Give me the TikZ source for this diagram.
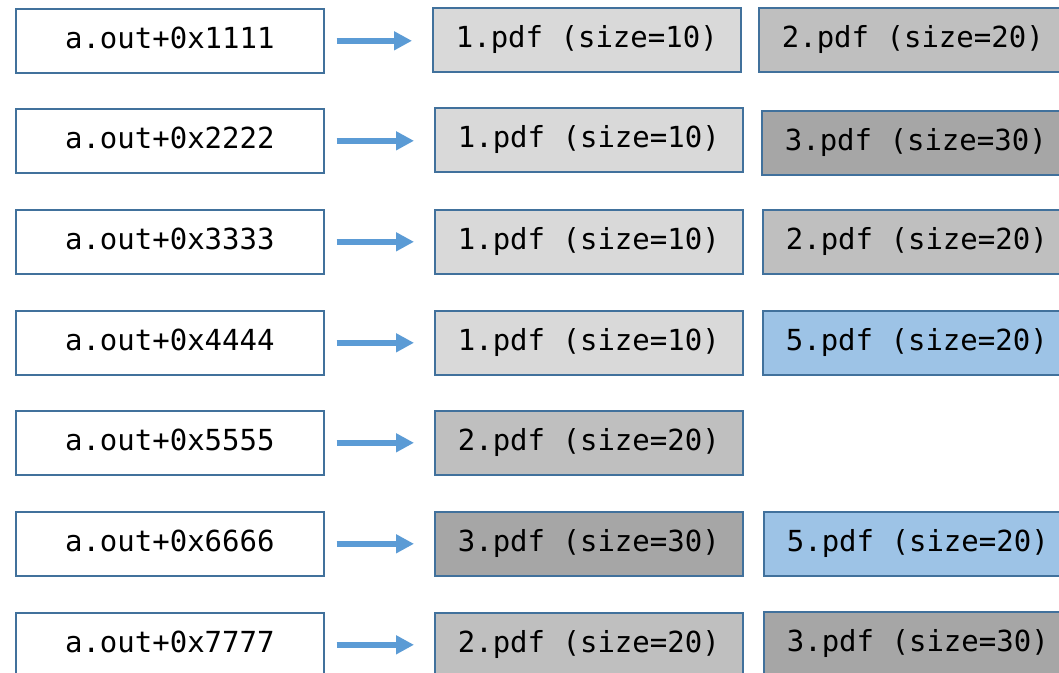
\documentclass[tikz,border=0pt]{standalone}
\usepackage{fontspec}
\newfontfamily\monofam{DejaVu Sans Mono}
\usetikzlibrary{arrows.meta}
\definecolor{edgeblue}{HTML}{41719C}
\definecolor{arrowblue}{HTML}{5B9BD5}
\definecolor{fone}{HTML}{D9D9D9}
\definecolor{ftwo}{HTML}{BFBFBF}
\definecolor{fthree}{HTML}{A6A6A6}
\definecolor{ffive}{HTML}{9DC3E6}
\tikzset{
  boxbase/.style={draw=edgeblue, line width=1.6pt, minimum width=308pt, minimum height=64pt,
    inner sep=0pt, text height=22pt, text depth=6pt, anchor=north west,
    font=\monofam\fontsize{29}{34}\selectfont},
  addrbox/.style={boxbase, fill=white},
  pdfone/.style={boxbase, fill=fone},
  pdftwo/.style={boxbase, fill=ftwo},
  pdfthree/.style={boxbase, fill=fthree},
  pdffive/.style={boxbase, fill=ffive},
  maparrow/.style={draw=arrowblue, line width=6pt, -{Triangle[length=18pt,width=18pt]},
    shorten <=12pt, shorten >=20pt}
}
\begin{document}
\begin{tikzpicture}[x=1pt,y=-1pt]
\clip (0,0) rectangle (1059,672);
\fill[white] (0,0) rectangle (1059,672);
% row 1
\node[addrbox] (l1) at (15,8) {a.out+0x1111};
\node[pdfone] (m1) at (432,7) {1.pdf (size=10)};
\node[pdftwo] (r1) at (758,7) {2.pdf (size=20)};
% row 2
\node[addrbox] (l2) at (15,108) {a.out+0x2222};
\node[pdfone] (m2) at (434,107) {1.pdf (size=10)};
\node[pdfthree] (r2) at (761,110) {3.pdf (size=30)};
% row 3
\node[addrbox] (l3) at (15,209) {a.out+0x3333};
\node[pdfone] (m3) at (434,209) {1.pdf (size=10)};
\node[pdftwo] (r3) at (762,209) {2.pdf (size=20)};
% row 4
\node[addrbox] (l4) at (15,310) {a.out+0x4444};
\node[pdfone] (m4) at (434,310) {1.pdf (size=10)};
\node[pdffive] (r4) at (762,310) {5.pdf (size=20)};
% row 5
\node[addrbox] (l5) at (15,410) {a.out+0x5555};
\node[pdftwo] (m5) at (434,410) {2.pdf (size=20)};
% row 6
\node[addrbox] (l6) at (15,511) {a.out+0x6666};
\node[pdfthree] (m6) at (434,511) {3.pdf (size=30)};
\node[pdffive] (r6) at (763,511) {5.pdf (size=20)};
% row 7
\node[addrbox] (l7) at (15,612) {a.out+0x7777};
\node[pdftwo] (m7) at (434,612) {2.pdf (size=20)};
\node[pdfthree] (r7) at (763,611) {3.pdf (size=30)};
% arrows
\foreach \i in {1,...,7}{
  \draw[maparrow] (l\i.east) -- (l\i.east -| m\i.west);
}
\end{tikzpicture}
\end{document}
